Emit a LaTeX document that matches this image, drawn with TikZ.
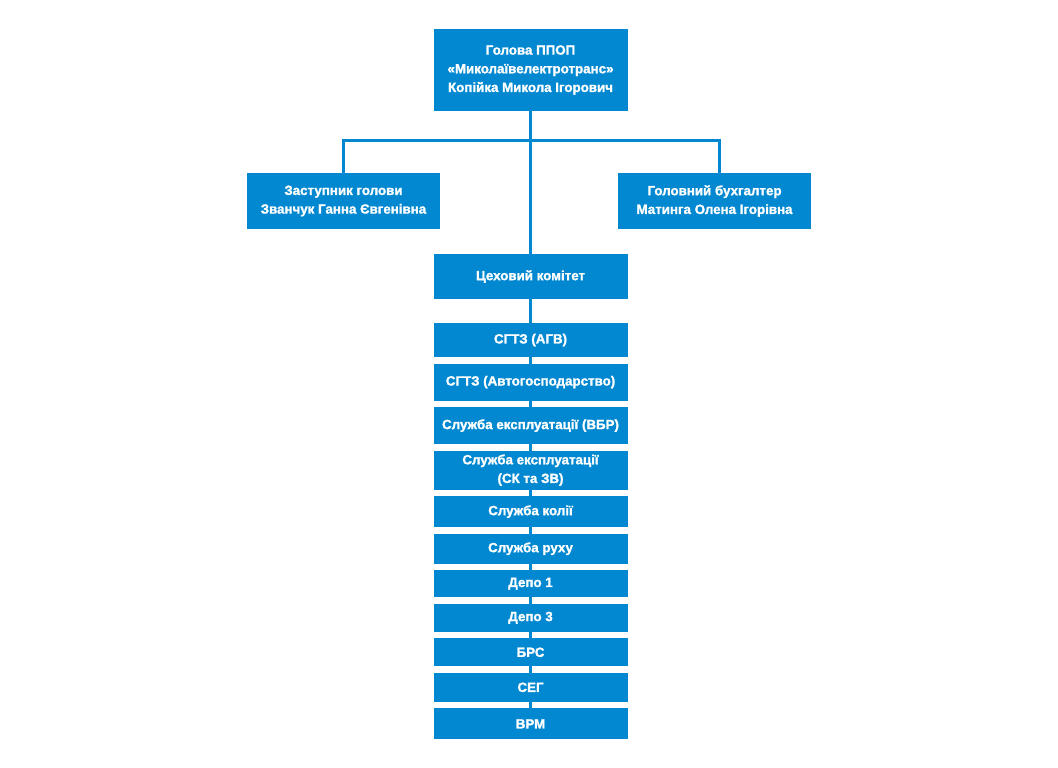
\documentclass[tikz,border=0pt]{standalone}
\usepackage{fontspec}
\setmainfont{Liberation Sans}
\newfontfamily\tovstyj[FakeBold=1.4]{Liberation Sans Bold}
\usetikzlibrary{positioning}
\definecolor{synij}{RGB}{2,136,209}

\begin{document}
\begin{tikzpicture}[line width=2.25pt,node distance=4.9pt]
\tikzstyle{komp}=[rectangle,fill=synij,text=white,font=\tovstyj\fontsize{10}{14}\selectfont,align=center,inner sep=1pt,outer sep=0pt,minimum width=145.5pt]
\tikzstyle{lin}=[draw=synij,line width=2.25pt]
\useasboundingbox (0,0) rectangle (793.5pt,-576pt);

\node[komp, minimum height=61.5pt] (holova) at (397.9pt,-52.5pt) {Голова ППОП\\«Миколаївелектротранс»\\Копійка Микола Ігорович};
\node[komp, minimum height=42pt, minimum width=144.75pt] (zastupnyk) at (257.6pt,-150.75pt) {Заступник голови\\Званчук Ганна Євгенівна};
\node[komp, minimum height=42pt, minimum width=144.75pt] (buhalter) at (535.9pt,-150.75pt) {Головний бухгалтер\\Матинга Олена Ігорівна};
\node[komp, minimum height=33.75pt] (tseh_kom) at (397.9pt,-207.4pt) {Цеховий комітет};
\path (holova.south) ++(0,-21.75pt) coordinate (vuzol);

\node[komp, minimum height=25.5pt] (sgtz_agv) [below=18pt of tseh_kom] {СГТЗ (АГВ)};
\node[komp, minimum height=27.75pt] (sgtz_avto) [below=of sgtz_agv] {СГТЗ (Автогосподарство)};
\node[komp, minimum height=27.75pt] (sl_vbr) [below=of sgtz_avto] {Служба експлуатації (ВБР)};
\node[komp, minimum height=29.25pt] (sl_sk) [below=of sl_vbr] {Служба експлуатації\\(СК та ЗВ)};
\node[komp, minimum height=23.25pt] (sl_kolii) [below=of sl_sk] {Служба колії};
\node[komp, minimum height=22.5pt] (sl_ruhu) [below=of sl_kolii] {Служба руху};
\node[komp, minimum height=20.25pt] (depo1) [below=of sl_ruhu] {Депо 1};
\node[komp, minimum height=21pt] (depo3) [below=of depo1] {Депо 3};
\node[komp, minimum height=21pt] (brs) [below=of depo3] {БРС};
\node[komp, minimum height=21.75pt] (seg) [below=of brs] {СЕГ};
\node[komp, minimum height=23.25pt] (vrm) [below=of seg] {ВРМ};

\draw[lin] (holova.south) -- (tseh_kom.north);
\draw[lin] (zastupnyk.north) |- (vuzol) -| ([xshift=4pt]buhalter.north);
\foreach \a/\b in {tseh_kom/sgtz_agv,sgtz_agv/sgtz_avto,sgtz_avto/sl_vbr,sl_vbr/sl_sk,sl_sk/sl_kolii,sl_kolii/sl_ruhu,sl_ruhu/depo1,depo1/depo3,depo3/brs,brs/seg,seg/vrm}
  \draw[lin] (\a.south) -- (\b.north);
\end{tikzpicture}
\end{document}
